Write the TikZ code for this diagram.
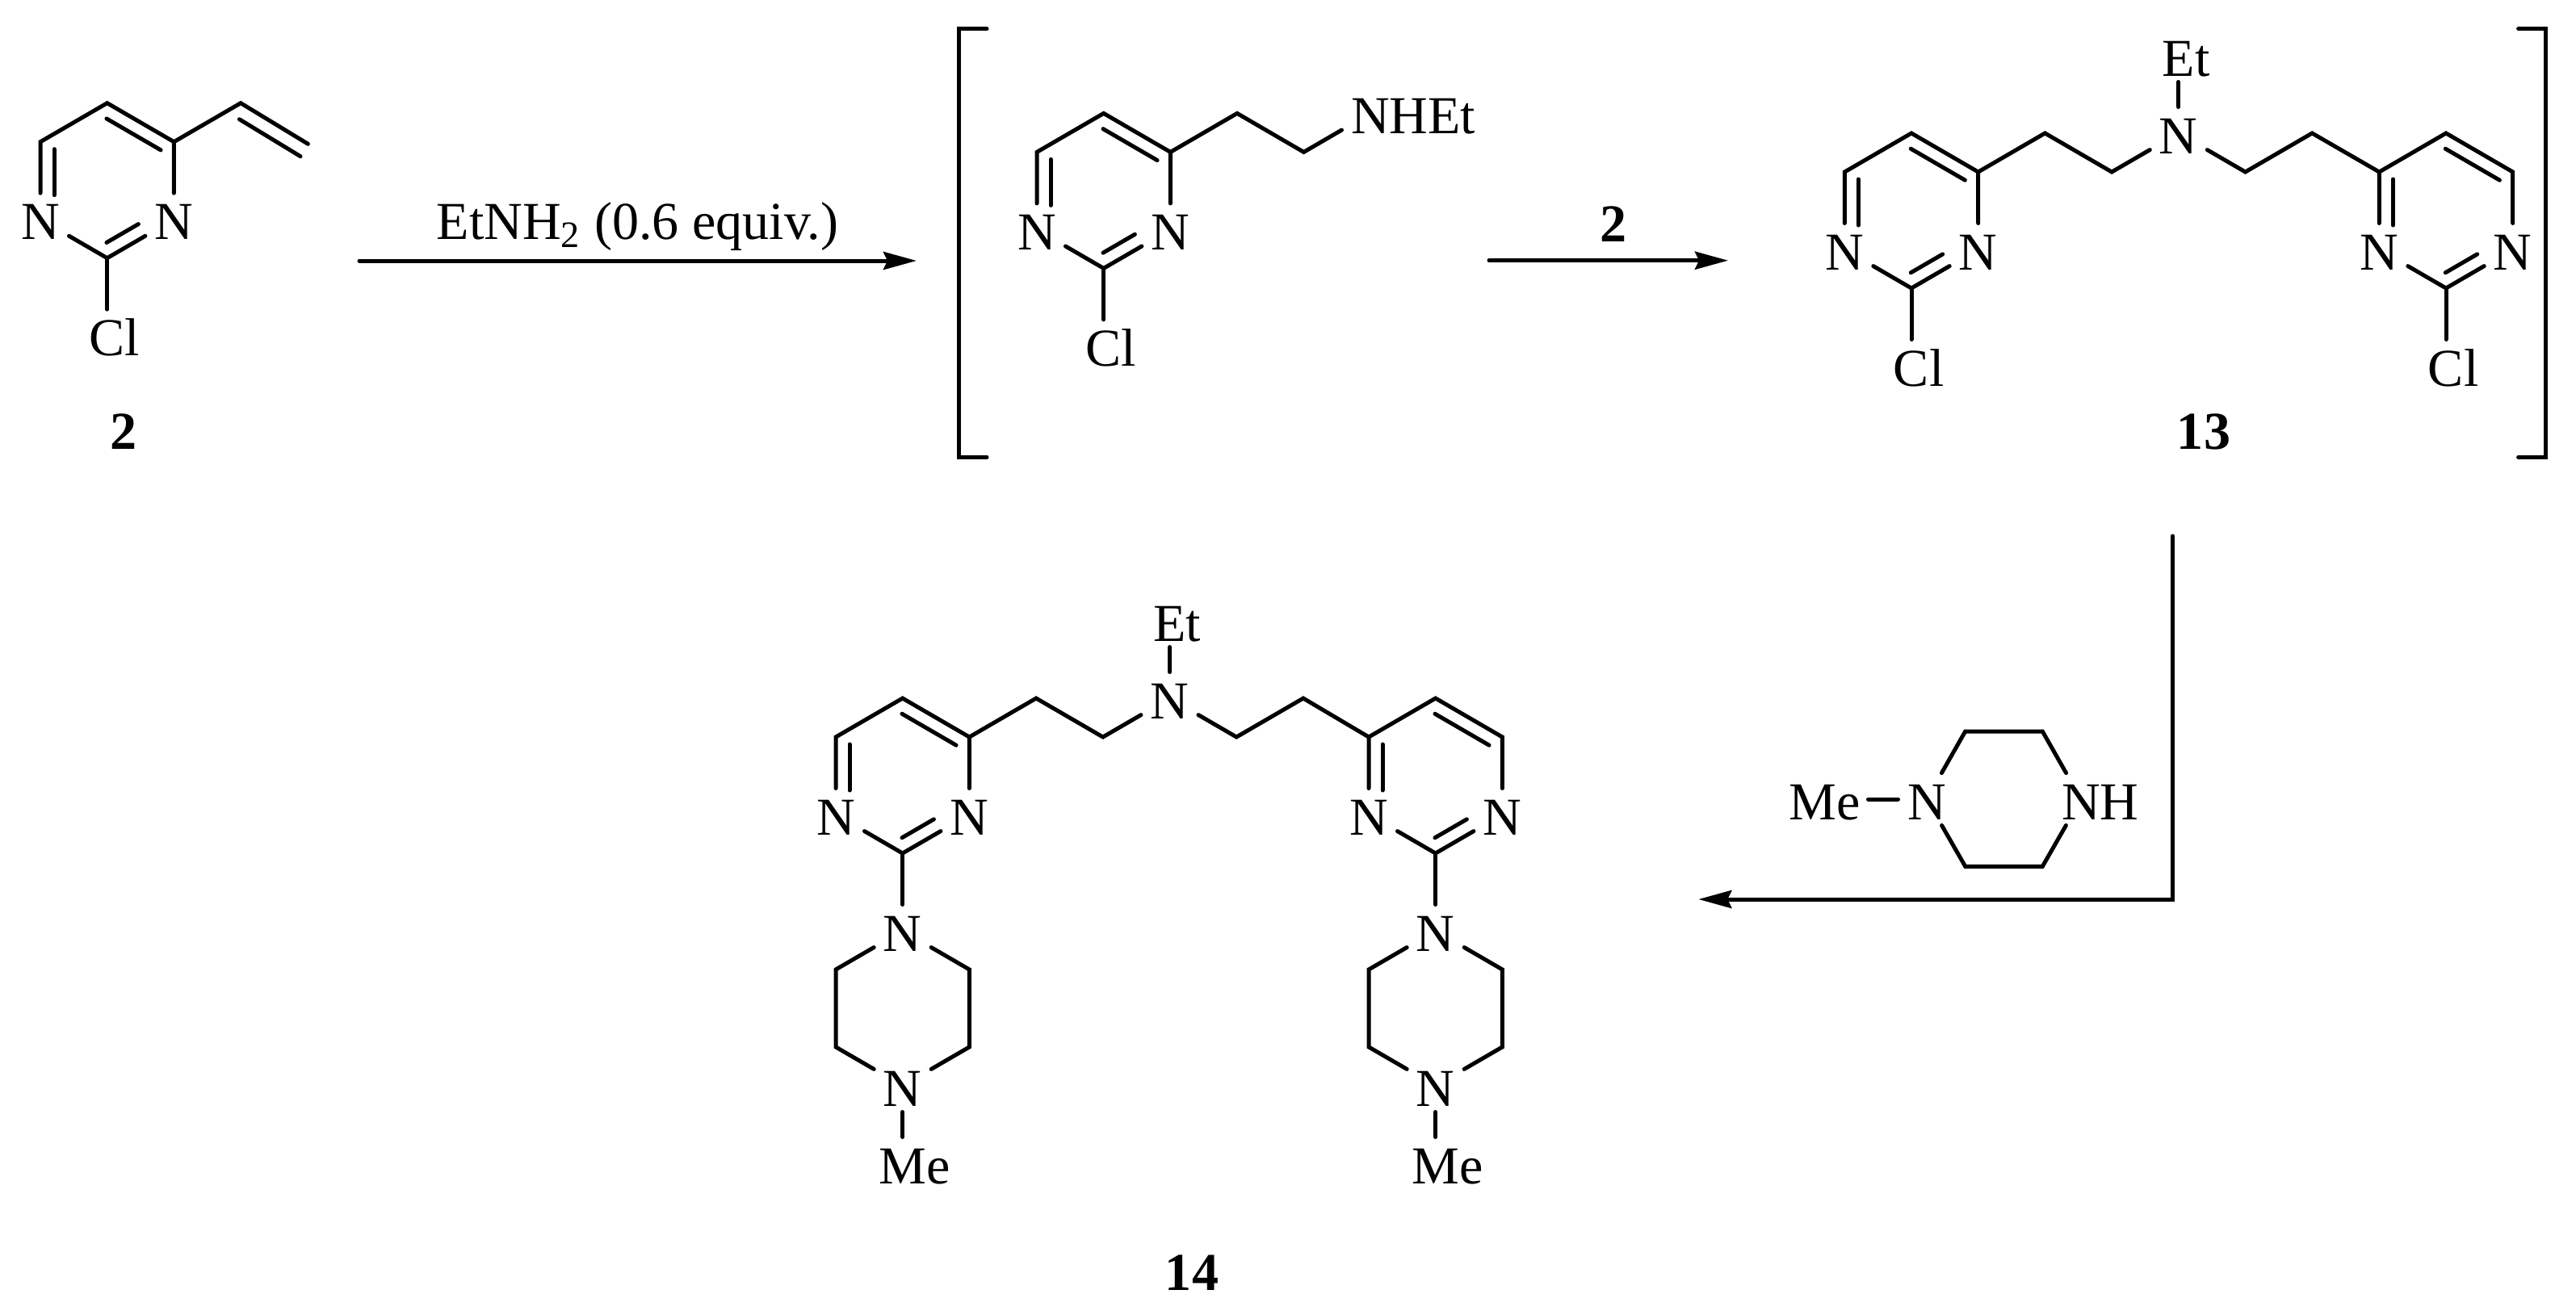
\documentclass[tikz,border=0pt]{standalone}
\usepackage{fontspec}
\setmainfont{Liberation Serif}
\usetikzlibrary{arrows.meta,calc}
\newcommand{\innerbond}[5]{\draw ($(#1)!#3!(#2)!#5!90:(#2)$) -- ($(#2)!#4!(#1)!#5!-90:(#1)$);}
\newcommand{\pyrimidine}[3]{
\coordinate (#1top) at (#2,#3);
\coordinate (#1ur) at (#2+8.27,#3-4.8);
\coordinate (#1ul) at (#2-8.27,#3-4.8);
\node [atom] (#1nr) at (#2+8.27,#3-14.4) {N};
\node [atom] (#1nl) at (#2-8.27,#3-14.4) {N};
\coordinate (#1bt) at (#2,#3-19.2);
\draw (#1nl) -- (#1ul) -- (#1top) -- (#1ur) -- (#1nr);
\draw (#1nl) -- (#1bt) -- (#1nr);
\innerbond{#1top}{#1ur}{.9mm}{.9mm}{-1.7mm}
\innerbond{#1ul}{#1nl}{.9mm}{3mm}{1.7mm}
\innerbond{#1bt}{#1nr}{.9mm}{4.1mm}{1.7mm}
}
\begin{document}
\begin{tikzpicture}[x=1mm,y=1mm,line width=0.5mm,line cap=round]
\tikzstyle{every node}+=[inner sep=0pt,font=\fontsize{18.8}{22}\selectfont]
\tikzstyle{atom}=[minimum width=6.6mm,minimum height=6mm,text height=5mm,text depth=0pt]
\tikzstyle{cmpd}=[font=\fontsize{18.8}{22}\selectfont\bfseries]
\tikzstyle{rxn}=[-{Stealth[length=4.1mm,width=2.2mm,inset=.5mm]}]
\useasboundingbox (0,0) rectangle (319,-162.8);
\pyrimidine{v}{13.27}{-12.77}
\coordinate (vch) at (29.81,-12.77);
\coordinate (vend) at (38.14,-17.83);
\node [atom] (vcl) at (13.27,-41.57) {C\rlap{l}};
\draw (vur) -- (vch) -- (vend);
\innerbond{vch}{vend}{.9mm}{0mm}{-1.8mm}
\draw (vbt) -- (vcl);
\node [cmpd] (lbltwo) at (15.3,-53.5) {2};
\coordinate (arrowaS) at (44.5,-32.3);
\coordinate (arrowaE) at (113.5,-32.3);
\draw [rxn] (arrowaS) -- (arrowaE);
\node [anchor=base] (amine) at (78.95,-29.67) {EtNH\textsubscript{2} (0.6 equiv.)};
\coordinate (brlTa) at (122.2,-3.57);
\coordinate (brlTb) at (118.77,-3.57);
\coordinate (brlBa) at (118.77,-56.64);
\coordinate (brlBb) at (122.2,-56.64);
\draw (brlTa) -- (brlTb) -- (brlBa) -- (brlBb);
\pyrimidine{a}{136.67}{-14.04}
\coordinate (ach) at (153.2,-14.04);
\coordinate (acw) at (161.45,-18.84);
\node [atom] (anh) at (169.7,-14.04) {N\rlap{HEt}};
\node [atom] (acl) at (136.67,-42.84) {C\rlap{l}};
\draw (aur) -- (ach) -- (acw) -- (anh);
\draw (abt) -- (acl);
\coordinate (arrowbS) at (184.4,-32.27);
\coordinate (arrowbE) at (214,-32.27);
\draw [rxn] (arrowbS) -- (arrowbE);
\node [cmpd] (lbltwob) at (199.8,-27.8) {2};
\pyrimidine{l}{236.7}{-16.5}
\pyrimidine{r}{302.9}{-16.5}
\coordinate (lch) at (253.24,-16.5);
\coordinate (lcw) at (261.51,-21.3);
\node [atom] (tn) at (269.78,-16.5) {N};
\coordinate (rcw) at (278.05,-21.3);
\coordinate (rch) at (286.32,-16.5);
\draw (lur) -- (lch) -- (lcw) -- (tn) -- (rcw) -- (rch) -- (rul);
\node [atom] (tet) at (269.78,-6.9) {E\rlap{t}};
\draw (tn) -- (tet);
\node [atom] (lcl) at (236.7,-45.3) {C\rlap{l}};
\node [atom] (rcl) at (302.9,-45.3) {C\rlap{l}};
\draw (lbt) -- (lcl);
\draw (rbt) -- (rcl);
\node [cmpd] (lblthirteen) at (272.9,-53.5) {13};
\coordinate (brrTa) at (311.86,-3.57);
\coordinate (brrTb) at (315.2,-3.57);
\coordinate (brrBa) at (315.2,-56.64);
\coordinate (brrBb) at (311.86,-56.64);
\draw (brrTa) -- (brrTb) -- (brrBa) -- (brrBb);
\coordinate (arrowcS) at (269.05,-66.4);
\coordinate (arrowcC) at (269.05,-111.4);
\coordinate (arrowcE) at (210.33,-111.4);
\draw [rxn] (arrowcS) -- (arrowcC) -- (arrowcE);
\node [atom,minimum width=4.4mm] (pme) at (228.9,-99) {\llap{M}e};
\node [atom] (pn) at (238.6,-99) {N};
\node [atom] (pnh) at (257.7,-99) {N\rlap{H}};
\coordinate (pa) at (243.37,-90.6);
\coordinate (pb) at (252.93,-90.6);
\coordinate (pc) at (243.37,-107.33);
\coordinate (pd) at (252.93,-107.33);
\draw (pme) -- (pn);
\draw (pn) -- (pa) -- (pb) -- (pnh);
\draw (pn) -- (pc) -- (pd) -- (pnh);
\pyrimidine{dl}{111.77}{-86.5}
\pyrimidine{dr}{177.77}{-86.5}
\coordinate (dlch) at (128.31,-86.5);
\coordinate (dlcw) at (136.58,-91.3);
\node [atom] (dn) at (144.85,-86.5) {N};
\coordinate (drcw) at (153.12,-91.3);
\coordinate (drch) at (161.39,-86.5);
\draw (dlur) -- (dlch) -- (dlcw) -- (dn) -- (drcw) -- (drch) -- (drul);
\node [atom] (det) at (144.85,-76.9) {E\rlap{t}};
\draw (dn) -- (det);
\node [atom] (lpa) at (111.77,-115.3) {N};
\coordinate (lpb) at (103.5,-120.1);
\coordinate (lpc) at (120.04,-120.1);
\coordinate (lpd) at (103.5,-129.7);
\coordinate (lpe) at (120.04,-129.7);
\node [atom] (lpf) at (111.77,-134.5) {N};
\node [atom] (lme) at (111.77,-144.1) {M\rlap{e}};
\draw (dlbt) -- (lpa);
\draw (lpa) -- (lpb) -- (lpd) -- (lpf) -- (lpe) -- (lpc) -- (lpa);
\draw (lpf) -- (lme);
\node [atom] (rpa) at (177.77,-115.3) {N};
\coordinate (rpb) at (169.5,-120.1);
\coordinate (rpc) at (186.04,-120.1);
\coordinate (rpd) at (169.5,-129.7);
\coordinate (rpe) at (186.04,-129.7);
\node [atom] (rpf) at (177.77,-134.5) {N};
\node [atom] (rme) at (177.77,-144.1) {M\rlap{e}};
\draw (drbt) -- (rpa);
\draw (rpa) -- (rpb) -- (rpd) -- (rpf) -- (rpe) -- (rpc) -- (rpa);
\draw (rpf) -- (rme);
\node [cmpd] (lblfourteen) at (147.6,-157.7) {14};
\end{tikzpicture}
\end{document}
